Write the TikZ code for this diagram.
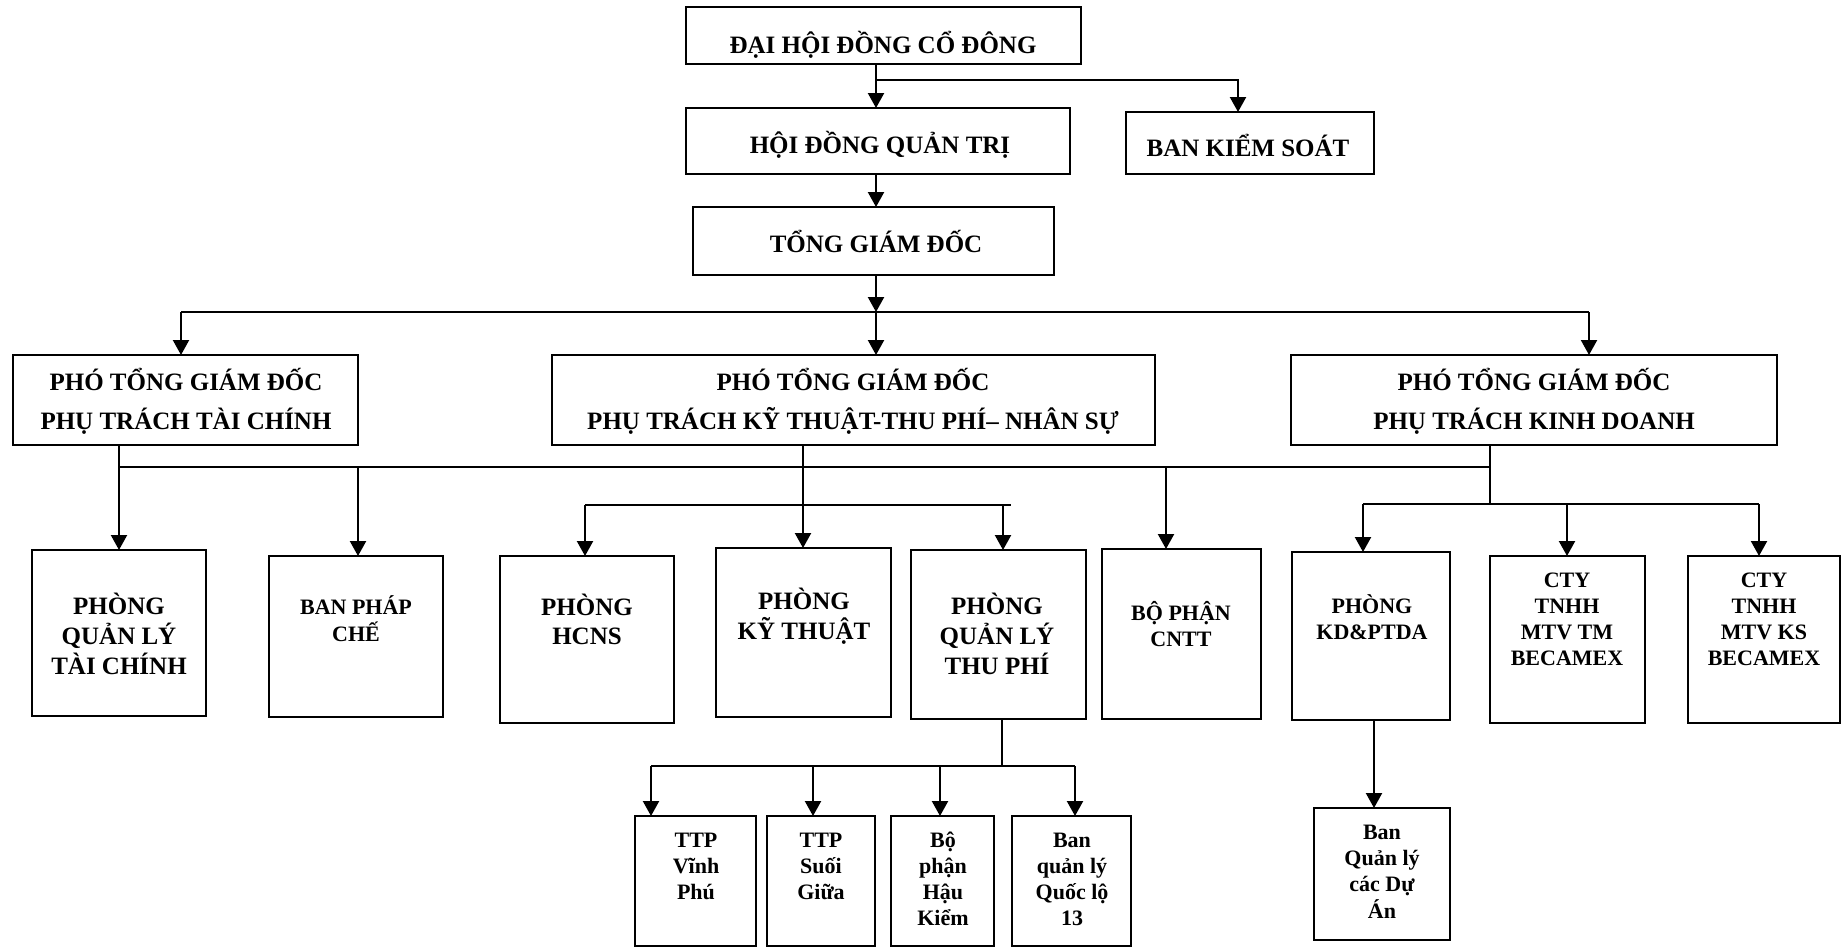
\documentclass[tikz,border=0pt]{standalone}
\usepackage{fontspec}
\setmainfont{Liberation Serif}
\usetikzlibrary{arrows.meta}
\tikzset{
  orgbox/.style={draw, line width=2.5pt, inner sep=0pt, outer sep=0pt},
  conn/.style={line width=2.2pt},
  arr/.style={line width=2.2pt, -{Triangle[length=15pt,width=16pt]}},
  tbig/.style={font=\bfseries\fontsize{25}{29}\selectfont, inner sep=0pt, anchor=base},
  tptgd/.style={font=\bfseries\fontsize{25}{39}\selectfont, inner sep=0pt, anchor=base},
  tsmall/.style={font=\bfseries\fontsize{22}{26.3}\selectfont, inner sep=0pt, anchor=base},
}
\newcommand\orgnode[5]{\node[orgbox, minimum width={(#4-#2)*1pt}, minimum height={(#5-#3)*1pt}] (#1) at ({(#2+#4)/2},{(#3+#5)/2}) {};}
\newcommand\ml[1]{\begin{tabular}[t]{@{}c@{}}#1\end{tabular}}
\begin{document}
\begin{tikzpicture}[x=1pt,y=-1pt]
\useasboundingbox (0,0) rectangle (1843,948);
% boxes
\orgnode{dh}{686}{7}{1081}{64}
\orgnode{hd}{686}{108}{1070}{174}
\orgnode{bks}{1126}{112}{1374}{174}
\orgnode{tg}{693}{207}{1054}{275}
\orgnode{p1}{13}{355}{358}{445}
\orgnode{p2}{552}{355}{1155}{445}
\orgnode{p3}{1291}{355}{1777}{445}
\orgnode{pqltc}{32}{550}{206}{716}
\orgnode{bpc}{269}{556}{443}{717}
\orgnode{hcns}{500}{556}{674}{723}
\orgnode{kt}{716}{548}{891}{717}
\orgnode{qltp}{911}{550}{1086}{719}
\orgnode{cntt}{1102}{549}{1261}{719}
\orgnode{kd}{1292}{552}{1450}{720}
\orgnode{ctytm}{1490}{556}{1645}{723}
\orgnode{ctyks}{1688}{556}{1840}{723}
\orgnode{tvp}{635}{816}{756}{946}
\orgnode{tsg}{767}{816}{875}{946}
\orgnode{bhk}{891}{816}{994}{946}
\orgnode{bql}{1012}{816}{1131}{946}
\orgnode{bqlda}{1314}{808}{1450}{940}
% texts
\node[tbig] (dh-t) at (883,53) {ĐẠI HỘI ĐỒNG CỔ ĐÔNG};
\node[tbig] (hd-t) at (880,153) {HỘI ĐỒNG QUẢN TRỊ};
\node[tbig] (bks-t) at (1248,156) {BAN KIỂM SOÁT};
\node[tbig] (tg-t) at (876,252) {TỔNG GIÁM ĐỐC};
\node[tptgd] (p1-t) at (186,390) {\ml{PHÓ TỔNG GIÁM ĐỐC\\PHỤ TRÁCH TÀI CHÍNH}};
\node[tptgd] (p2-t) at (853,390) {\ml{PHÓ TỔNG GIÁM ĐỐC\\PHỤ TRÁCH KỸ THUẬT-THU PHÍ– NHÂN SỰ}};
\node[tptgd] (p3-t) at (1534,390) {\ml{PHÓ TỔNG GIÁM ĐỐC\\PHỤ TRÁCH KINH DOANH}};
\node[tbig] (pqltc-t) at (119,614) {\ml{PHÒNG\\QUẢN LÝ\\TÀI CHÍNH}};
\node[tsmall] (bpc-t) at (356,614) {\ml{BAN PHÁP\\CHẾ}};
\node[tbig] (hcns-t) at (587,615) {\ml{PHÒNG\\HCNS}};
\node[tbig] (kt-t) at (804,609) {\ml{PHÒNG\\KỸ THUẬT}};
\node[tbig] (qltp-t) at (997,614) {\ml{PHÒNG\\QUẢN LÝ\\THU PHÍ}};
\node[tsmall] (cntt-t) at (1181,620) {\ml{BỘ PHẬN\\CNTT}};
\node[tsmall] (kd-t) at (1372,613) {\ml{PHÒNG\\KD\&PTDA}};
\node[tsmall] (ctytm-t) at (1567,587) {\ml{CTY\\TNHH\\MTV TM\\BECAMEX}};
\node[tsmall] (ctyks-t) at (1764,587) {\ml{CTY\\TNHH\\MTV KS\\BECAMEX}};
\node[tsmall] (tvp-t) at (696,847) {\ml{TTP\\Vĩnh\\Phú}};
\node[tsmall] (tsg-t) at (821,847) {\ml{TTP\\Suối\\Giữa}};
\node[tsmall] (bhk-t) at (943,847) {\ml{Bộ\\phận\\Hậu\\Kiểm}};
\node[tsmall] (bql-t) at (1072,847) {\ml{Ban\\quản lý\\Quốc lộ\\13}};
\node[tsmall] (bqlda-t) at (1382,839) {\ml{Ban\\Quản lý\\các Dự\\Án}};
% top connectors
\coordinate (j0) at (876,80);
\coordinate (j1) at (1238,80);
\draw[arr] (dh.south -| j0) -- (hd.north -| j0);
\draw[arr] (j0) -- (j1) -- (bks.north -| j1);
\draw[arr] (hd.south -| j0) -- (tg.north -| j0);
\coordinate (j2) at (876,312);
\coordinate (jL) at (181,312);
\coordinate (jR) at (1589,312);
\draw[arr] (tg.south -| j2) -- (j2);
\draw[conn] (jL) -- (jR);
\draw[arr] (j2) -- (p2.north -| j2);
\draw[arr] (jL) -- (p1.north -| jL);
\draw[arr] (jR) -- (p3.north -| jR);
% level 2 -> 3
\coordinate (k1) at (119,467);
\coordinate (k2) at (1490,467);
\coordinate (kB) at (358,467);
\coordinate (kC) at (1166,467);
\draw[conn] (k1) -- (k2);
\draw[arr] (p1.south -| k1) -- (pqltc.north -| k1);
\draw[arr] (kB) -- (bpc.north -| kB);
\draw[arr] (kC) -- (cntt.north -| kC);
% middle group
\coordinate (n0) at (803,505);
\coordinate (h1) at (585,505);
\coordinate (h2) at (1011,505);
\coordinate (h3) at (1003,505);
\draw[arr] (p2.south -| n0) -- (kt.north -| n0);
\draw[conn] (h1) -- (h2);
\draw[arr] (h1) -- (hcns.north -| h1);
\draw[arr] (h3) -- (qltp.north -| h3);
% business group
\coordinate (m0) at (1490,504);
\coordinate (m1) at (1363,504);
\coordinate (m2) at (1567,504);
\coordinate (m3) at (1759,504);
\draw[conn] (p3.south -| m0) -- (m0);
\draw[conn] (m1) -- (m3);
\draw[arr] (m1) -- (kd.north -| m1);
\draw[arr] (m2) -- (ctytm.north -| m2);
\draw[arr] (m3) -- (ctyks.north -| m3);
\coordinate (r0) at (1374,760);
\draw[arr] (kd.south -| r0) -- (bqlda.north -| r0);
% toll group
\coordinate (q0) at (1002,766);
\coordinate (q1) at (651,766);
\coordinate (q2) at (813,766);
\coordinate (q3) at (940,766);
\coordinate (q4) at (1075,766);
\draw[conn] (qltp.south -| q0) -- (q0);
\draw[conn] (q1) -- (q4);
\draw[arr] (q1) -- (tvp.north -| q1);
\draw[arr] (q2) -- (tsg.north -| q2);
\draw[arr] (q3) -- (bhk.north -| q3);
\draw[arr] (q4) -- (bql.north -| q4);
\end{tikzpicture}
\end{document}
